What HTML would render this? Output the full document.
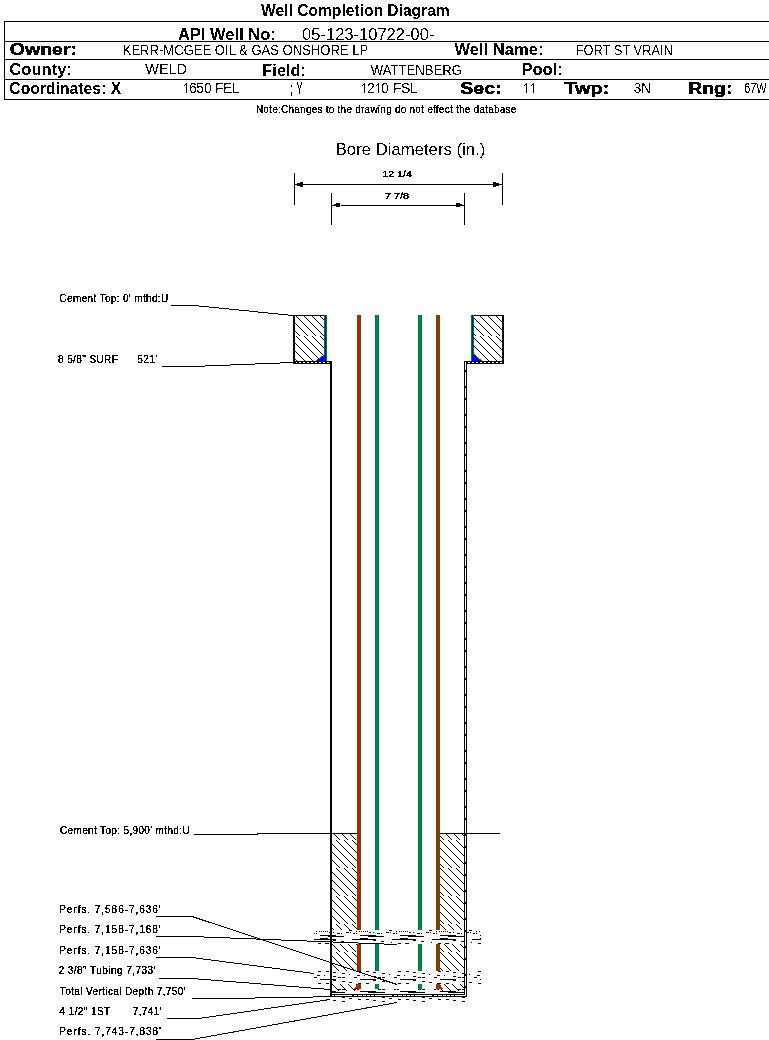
<!DOCTYPE html>
<html><head><meta charset="utf-8">
<style>
html,body{margin:0;padding:0;background:#fff;}
body{width:769px;height:1040px;overflow:hidden;position:relative;}
svg{position:absolute;left:0;top:0;}
text{font-family:"Liberation Sans",sans-serif;fill:#000;white-space:pre;filter:url(#bin);}
.b{font-weight:bold;filter:url(#binr);}
.sm,.smg text{filter:url(#binr);stroke:#000;stroke-width:0.3px;}
#note{stroke-width:0.25px;}
.rg{filter:url(#binr);}
.hv{font-weight:bold;stroke:#000;stroke-width:0.25px;}
</style></head><body>
<svg width="769" height="1040" viewBox="0 0 769 1040">
<defs>
<filter id="bin" x="-5%" y="-20%" width="110%" height="140%"><feComponentTransfer><feFuncA type="discrete" tableValues="0 0 1 1 1"/></feComponentTransfer></filter>
<filter id="binr" x="-5%" y="-20%" width="110%" height="140%"><feComponentTransfer><feFuncA type="discrete" tableValues="0 1"/></feComponentTransfer></filter>
<filter id="bins" x="-5%" y="-20%" width="110%" height="140%"><feComponentTransfer><feFuncA type="discrete" tableValues="0 0 0 1 1 1 1 1 1 1"/></feComponentTransfer></filter>
<pattern id="hatch" x="0" y="0" width="8" height="56" patternUnits="userSpaceOnUse" shape-rendering="crispEdges">
<path id="hp" d="M0 0h1v1h-1zM1 1h1v1h-1zM2 2h1v1h-1zM3 3h1v1h-1zM4 4h1v1h-1zM5 5h1v1h-1zM6 6h1v1h-1zM7 7h1v1h-1zM0 8h1v1h-1zM1 9h1v1h-1zM2 10h1v1h-1zM3 11h1v1h-1zM4 12h1v1h-1zM5 13h1v1h-1zM6 14h1v1h-1zM7 15h1v1h-1zM0 16h1v1h-1zM1 17h1v1h-1zM2 18h1v1h-1zM3 19h1v1h-1zM4 20h1v1h-1zM5 21h1v1h-1zM6 22h1v1h-1zM7 23h1v1h-1zM0 24h1v1h-1zM1 25h1v1h-1zM2 26h1v1h-1zM3 27h1v1h-1zM0 28h1v1h-1zM1 29h1v1h-1zM2 30h1v1h-1zM3 31h1v1h-1zM4 32h1v1h-1zM5 33h1v1h-1zM6 34h1v1h-1zM7 35h1v1h-1zM0 36h1v1h-1zM1 37h1v1h-1zM2 38h1v1h-1zM3 39h1v1h-1zM4 40h1v1h-1zM5 41h1v1h-1zM6 42h1v1h-1zM7 43h1v1h-1zM0 44h1v1h-1zM1 45h1v1h-1zM2 46h1v1h-1zM3 47h1v1h-1zM4 48h1v1h-1zM5 49h1v1h-1zM6 50h1v1h-1zM7 51h1v1h-1zM0 52h1v1h-1zM1 53h1v1h-1zM2 54h1v1h-1zM3 55h1v1h-1z" fill="#000"/>
</pattern>
</defs>

<!-- ===== HEADER ===== -->
<g shape-rendering="crispEdges" stroke="#000" stroke-width="1">
<line x1="4" y1="21.5" x2="769" y2="21.5"/>
<line x1="4" y1="41.5" x2="769" y2="41.5"/>
<line x1="4" y1="59.5" x2="769" y2="59.5"/>
<line x1="4" y1="79.5" x2="769" y2="79.5"/>
<line x1="4" y1="99.5" x2="769" y2="99.5"/>
<line x1="4.5" y1="21" x2="4.5" y2="100"/>
</g>
<text id="title" class="b" x="261.1" y="16" font-size="16.5" textLength="188.6" lengthAdjust="spacingAndGlyphs">Well Completion Diagram</text>
<text id="api" class="b" x="178.0" y="40" font-size="16.5" textLength="97.8" lengthAdjust="spacingAndGlyphs">API Well No:</text>
<text id="apinum" class="rg" x="302.1" y="40" font-size="16.5" textLength="132.3" lengthAdjust="spacingAndGlyphs">05-123-10722-00-</text>

<text id="owner" class="hv" x="9.8" y="55" font-size="16.5" textLength="67.2" lengthAdjust="spacingAndGlyphs">Owner:</text>
<text id="kerr" class="rg" x="122.7" y="55" font-size="14" textLength="245.6" lengthAdjust="spacingAndGlyphs">KERR-MCGEE OIL &amp; GAS ONSHORE LP</text>
<text id="wellname" class="b" x="454.5" y="55" font-size="16.5" textLength="88.9" lengthAdjust="spacingAndGlyphs">Well Name:</text>
<text id="fort" class="rg" x="575.7" y="55" font-size="14" textLength="97.2" lengthAdjust="spacingAndGlyphs">FORT ST VRAIN</text>

<text id="county" class="b" x="9.3" y="75" font-size="16.5" textLength="62.7" lengthAdjust="spacingAndGlyphs">County:</text>
<text id="weld" class="rg" x="145.3" y="74" font-size="14" textLength="41.7" lengthAdjust="spacingAndGlyphs">WELD</text>
<text id="field" class="b" x="262.3" y="76" font-size="16.5" textLength="43.8" lengthAdjust="spacingAndGlyphs">Field:</text>
<text id="watt" class="rg" x="370.8" y="75" font-size="14" textLength="91.3" lengthAdjust="spacingAndGlyphs">WATTENBERG</text>
<text id="pool" class="b" x="521.4" y="75" font-size="16.5" textLength="41.5" lengthAdjust="spacingAndGlyphs">Pool:</text>

<text id="coord" class="b" x="9.3" y="94" font-size="16.5" textLength="111.9" lengthAdjust="spacingAndGlyphs">Coordinates: X</text>
<text class="rg" x="189 196 204 211 215 223 232" y="93" font-size="14">650 FEL</text>
<path shape-rendering="crispEdges" fill="#000" d="M291 85h1v2h-1zM291 92h1v4h-1zM297 82h1v3h-1zM298 85h1v3h-1zM301 82h1v3h-1zM300 85h1v3h-1zM299 88h1v6h-1z"/>
<text class="rg" x="367" y="93" font-size="14">2</text><text class="rg" x="381 387 393 401 410" y="93" font-size="14">0 FSL</text>
<text id="sec" class="hv" x="460.2" y="94" font-size="16.5" textLength="41.7" lengthAdjust="spacingAndGlyphs">Sec:</text>
<path shape-rendering="crispEdges" fill="#000" d="M186 83h1v10h-1zM185 84h1v1h-1zM184 85h1v1h-1zM364 83h1v10h-1zM363 84h1v1h-1zM362 85h1v1h-1zM378 83h1v10h-1zM377 84h1v1h-1zM376 85h1v1h-1zM526 83h1v10h-1zM525 84h1v1h-1zM524 85h1v1h-1zM533 83h1v10h-1zM532 84h1v1h-1zM531 85h1v1h-1z"/>
<text id="twp" class="hv" x="564.3" y="94" font-size="16.5" textLength="44.9" lengthAdjust="spacingAndGlyphs">Twp:</text>
<text id="n3n" class="rg" x="633.7" y="93" font-size="14" textLength="17.2" lengthAdjust="spacingAndGlyphs">3N</text>
<text id="rng" class="hv" x="688.2" y="94" font-size="16.5" textLength="44.2" lengthAdjust="spacingAndGlyphs">Rng:</text>
<text id="w67" class="rg" x="744.2" y="93" font-size="14" textLength="22.5" lengthAdjust="spacingAndGlyphs">67W</text>

<text id="note" class="sm" x="255.9" y="113" font-size="10" textLength="260.5" lengthAdjust="spacing">Note:Changes to the drawing do not effect the database</text>

<!-- ===== DIAGRAM TITLE / DIMENSIONS ===== -->
<text id="bore" class="rg" x="335.7" y="155" font-size="17" textLength="149.6" lengthAdjust="spacingAndGlyphs">Bore Diameters (in.)</text>
<g shape-rendering="crispEdges" stroke="#000" stroke-width="1" fill="none">
<line x1="294.5" y1="173" x2="294.5" y2="205"/>
<line x1="502.5" y1="173" x2="502.5" y2="205"/>
<line x1="294" y1="184.5" x2="503" y2="184.5"/>
<line x1="331.5" y1="193" x2="331.5" y2="225"/>
<line x1="464.5" y1="193" x2="464.5" y2="225"/>
<line x1="331" y1="205.5" x2="465" y2="205.5"/>
</g>
<g fill="#000" shape-rendering="crispEdges">
<rect x="297" y="183" width="3" height="3"/><rect x="300" y="182" width="3" height="5"/>
<rect x="496" y="183" width="3" height="3"/><rect x="493" y="182" width="3" height="5"/>
<rect x="334" y="204" width="2" height="2"/><rect x="336" y="203" width="4" height="4"/>
<rect x="460" y="204" width="2" height="2"/><rect x="456" y="203" width="4" height="4"/>
<rect x="340" y="205" width="1" height="1" fill="#fff"/>
</g>
<text id="d1" class="sm" x="382.2" y="177" font-size="9.5" textLength="29.8" lengthAdjust="spacingAndGlyphs">12 1/4</text>
<text id="d2" class="sm" x="384.7" y="199" font-size="9.5" textLength="24.4" lengthAdjust="spacingAndGlyphs">7 7/8</text>

<!-- ===== WELL BODY ===== -->
<rect x="295" y="316" width="29" height="45" fill="url(#hatch)"/>
<rect x="474" y="316" width="28" height="45" fill="url(#hatch)"/>
<rect x="332" y="834" width="25" height="96" fill="url(#hatch)"/><rect x="440" y="834" width="24" height="96" fill="url(#hatch)"/><rect x="332" y="944" width="25" height="27" fill="url(#hatch)"/><rect x="440" y="944" width="24" height="27" fill="url(#hatch)"/><rect x="332" y="984" width="25" height="7" fill="url(#hatch)"/><rect x="440" y="984" width="24" height="7" fill="url(#hatch)"/>
<g shape-rendering="crispEdges">
<rect x="357" y="315" width="4" height="615" fill="#008000"/><rect x="358" y="315" width="2" height="615" fill="#ff0000"/><rect x="436" y="315" width="4" height="615" fill="#008000"/><rect x="437" y="315" width="2" height="615" fill="#ff0000"/><rect x="375" y="315" width="4" height="615" fill="#008000"/><rect x="376" y="315" width="2" height="615" fill="#008080"/><rect x="418" y="315" width="4" height="615" fill="#008000"/><rect x="419" y="315" width="2" height="615" fill="#008080"/><rect x="357" y="944" width="4" height="27" fill="#008000"/><rect x="358" y="944" width="2" height="27" fill="#ff0000"/><rect x="436" y="944" width="4" height="27" fill="#008000"/><rect x="437" y="944" width="2" height="27" fill="#ff0000"/><rect x="375" y="944" width="4" height="27" fill="#008000"/><rect x="376" y="944" width="2" height="27" fill="#008080"/><rect x="418" y="944" width="4" height="27" fill="#008000"/><rect x="419" y="944" width="2" height="27" fill="#008080"/><rect x="357" y="984" width="4" height="5" fill="#008000"/><rect x="358" y="984" width="2" height="5" fill="#ff0000"/><rect x="436" y="984" width="4" height="5" fill="#008000"/><rect x="437" y="984" width="2" height="5" fill="#ff0000"/><rect x="375" y="984" width="4" height="5" fill="#008000"/><rect x="376" y="984" width="2" height="5" fill="#008080"/><rect x="418" y="984" width="4" height="5" fill="#008000"/><rect x="419" y="984" width="2" height="5" fill="#008080"/>
</g>
<!-- perf bands -->
<g shape-rendering="crispEdges">
<rect x="314" y="930" width="167" height="14" fill="#fff"/>
<rect x="314" y="971" width="167" height="13" fill="#fff"/>
<rect x="332" y="991" width="132" height="3" fill="#fff"/>
<path fill="#000" d="M349 930h3v1h-3zM389 930h3v1h-3zM429 930h3v1h-3zM469 930h3v1h-3zM316 931h1v1h-1zM356 931h1v1h-1zM396 931h1v1h-1zM436 931h1v1h-1zM476 931h1v1h-1zM319 931h1v1h-1zM359 931h1v1h-1zM399 931h1v1h-1zM439 931h1v1h-1zM479 931h1v1h-1zM321 931h1v1h-1zM361 931h1v1h-1zM401 931h1v1h-1zM441 931h1v1h-1zM323 931h1v1h-1zM363 931h1v1h-1zM403 931h1v1h-1zM443 931h1v1h-1zM325 931h1v1h-1zM365 931h1v1h-1zM405 931h1v1h-1zM445 931h1v1h-1zM327 931h1v1h-1zM367 931h1v1h-1zM407 931h1v1h-1zM447 931h1v1h-1zM329 932h2v1h-2zM369 932h2v1h-2zM409 932h2v1h-2zM449 932h2v1h-2zM333 932h1v1h-1zM373 932h1v1h-1zM413 932h1v1h-1zM453 932h1v1h-1zM346 932h3v1h-3zM386 932h3v1h-3zM426 932h3v1h-3zM466 932h3v1h-3zM350 932h1v1h-1zM390 932h1v1h-1zM430 932h1v1h-1zM470 932h1v1h-1zM337 933h3v1h-3zM377 933h3v1h-3zM417 933h3v1h-3zM457 933h3v1h-3zM341 933h1v1h-1zM381 933h1v1h-1zM421 933h1v1h-1zM461 933h1v1h-1zM314 933h1v1h-1zM353 933h2v1h-2zM393 933h2v1h-2zM433 933h2v1h-2zM473 933h2v1h-2zM316 933h1v1h-1zM356 933h1v1h-1zM396 933h1v1h-1zM436 933h1v1h-1zM476 933h1v1h-1zM320 935h16v1h-16zM360 935h16v1h-16zM400 935h16v1h-16zM440 935h16v1h-16zM480 935h1v1h-1zM328 936h16v1h-16zM368 936h16v1h-16zM408 936h16v1h-16zM448 936h16v1h-16zM320 938h8v1h-8zM360 938h8v1h-8zM400 938h8v1h-8zM440 938h8v1h-8zM480 938h1v1h-1zM314 939h2v1h-2zM352 939h4v1h-4zM392 939h4v1h-4zM432 939h4v1h-4zM472 939h4v1h-4zM316 939h20v1h-20zM356 939h20v1h-20zM396 939h20v1h-20zM436 939h20v1h-20zM476 939h5v1h-5zM333 940h3v1h-3zM373 940h3v1h-3zM413 940h3v1h-3zM453 940h3v1h-3zM341 941h3v1h-3zM381 941h3v1h-3zM421 941h3v1h-3zM461 941h3v1h-3zM351 942h1v1h-1zM391 942h1v1h-1zM431 942h1v1h-1zM471 942h1v1h-1zM318 943h3v1h-3zM358 943h3v1h-3zM398 943h3v1h-3zM438 943h3v1h-3zM478 943h3v1h-3zM325 943h4v1h-4zM365 943h4v1h-4zM405 943h4v1h-4zM445 943h4v1h-4zM318 971h3v1h-3zM358 971h3v1h-3zM398 971h3v1h-3zM438 971h3v1h-3zM478 971h3v1h-3zM326 971h3v1h-3zM366 971h3v1h-3zM406 971h3v1h-3zM446 971h3v1h-3zM333 972h3v1h-3zM373 972h3v1h-3zM413 972h3v1h-3zM453 972h3v1h-3zM342 973h3v1h-3zM382 973h3v1h-3zM422 973h3v1h-3zM462 973h3v1h-3zM349 974h1v1h-1zM389 974h1v1h-1zM429 974h1v1h-1zM469 974h1v1h-1zM317 975h3v1h-3zM357 975h3v1h-3zM397 975h3v1h-3zM437 975h3v1h-3zM477 975h3v1h-3zM324 975h1v1h-1zM364 975h1v1h-1zM404 975h1v1h-1zM444 975h1v1h-1zM333 976h3v1h-3zM373 976h3v1h-3zM413 976h3v1h-3zM453 976h3v1h-3zM314 977h2v1h-2zM354 977h2v1h-2zM394 977h2v1h-2zM434 977h2v1h-2zM474 977h2v1h-2zM316 977h1v1h-1zM356 977h1v1h-1zM396 977h1v1h-1zM436 977h1v1h-1zM476 977h1v1h-1zM338 977h3v1h-3zM378 977h3v1h-3zM418 977h3v1h-3zM458 977h3v1h-3zM342 977h3v1h-3zM382 977h3v1h-3zM422 977h3v1h-3zM462 977h3v1h-3zM320 979h16v1h-16zM360 979h16v1h-16zM400 979h16v1h-16zM440 979h16v1h-16zM480 979h1v1h-1zM333 980h3v1h-3zM373 980h3v1h-3zM413 980h3v1h-3zM453 980h3v1h-3zM342 981h3v1h-3zM382 981h3v1h-3zM422 981h3v1h-3zM462 981h3v1h-3zM349 982h3v1h-3zM389 982h3v1h-3zM429 982h3v1h-3zM469 982h3v1h-3zM318 983h3v1h-3zM358 983h3v1h-3zM398 983h3v1h-3zM438 983h3v1h-3zM478 983h3v1h-3zM326 983h3v1h-3zM366 983h3v1h-3zM406 983h3v1h-3zM446 983h3v1h-3zM354 989h2v1h-2zM394 989h2v1h-2zM434 989h2v1h-2zM357 989h2v1h-2zM397 989h2v1h-2zM437 989h2v1h-2zM338 989h3v1h-3zM378 989h3v1h-3zM418 989h3v1h-3zM458 989h3v1h-3zM342 989h3v1h-3zM382 989h3v1h-3zM422 989h3v1h-3zM462 989h3v1h-3zM332 991h4v1h-4zM360 991h16v1h-16zM400 991h16v1h-16zM440 991h16v1h-16zM332 992h13v1h-13zM368 992h17v1h-17zM408 992h17v1h-17zM448 992h17v1h-17zM342 997h3v1h-3zM382 997h3v1h-3zM422 997h3v1h-3zM462 997h3v1h-3zM349 998h3v1h-3zM389 998h3v1h-3zM429 998h3v1h-3zM358 999h3v1h-3zM398 999h3v1h-3zM438 999h3v1h-3zM366 999h3v1h-3zM406 999h3v1h-3zM446 999h3v1h-3zM333 1000h3v1h-3zM373 1000h3v1h-3zM413 1000h3v1h-3zM453 1000h3v1h-3zM342 1001h3v1h-3zM382 1001h3v1h-3zM422 1001h3v1h-3zM462 1001h3v1h-3z"/>
</g>
<!-- shoes -->
<g shape-rendering="crispEdges"><path fill="#ff0000" d="M358 984h2v1h-2zM437 984h2v1h-2zM357 985h3v1h-3zM437 985h3v1h-3zM357 986h3v1h-3zM437 986h3v1h-3zM356 987h4v1h-4zM437 987h4v1h-4zM355 988h5v1h-5zM437 988h5v1h-5z"/><path fill="#008000" d="M357 984h1v1h-1zM360 984h1v1h-1zM439 984h1v1h-1zM436 984h1v1h-1zM356 985h1v1h-1zM360 985h1v1h-1zM440 985h1v1h-1zM436 985h1v1h-1zM356 986h1v1h-1zM360 986h1v1h-1zM440 986h1v1h-1zM436 986h1v1h-1zM355 987h1v1h-1zM360 987h1v1h-1zM441 987h1v1h-1zM436 987h1v1h-1zM354 988h1v1h-1zM360 988h1v1h-1zM442 988h1v1h-1zM436 988h1v1h-1z"/></g>
<g shape-rendering="crispEdges" fill="#000">
<rect x="358" y="983" width="2" height="1"/><rect x="437" y="983" width="2" height="1"/>
<!-- surface casing boxes -->
<rect x="293" y="315" width="31" height="1"/>
<rect x="293" y="315" width="2" height="48"/>
<rect x="474" y="315" width="30" height="1"/>
<rect x="502" y="315" width="2" height="48"/>
<rect x="293" y="361" width="39" height="3"/>
<rect x="464" y="361" width="40" height="3"/>
<!-- walls -->
<rect x="330" y="361" width="2" height="636"/>
<rect x="464" y="361" width="3" height="636"/>
<!-- bottom -->
<rect x="330" y="994" width="137" height="3"/>
</g>
<g stroke="#fff" stroke-width="1" shape-rendering="crispEdges" fill="none">
<line x1="296" y1="362.5" x2="331" y2="362.5" stroke-dasharray="2 2" stroke-dashoffset="1"/>
<line x1="468" y1="362.5" x2="502" y2="362.5" stroke-dasharray="2 2"/>
<line x1="465.5" y1="362" x2="465.5" y2="996" stroke-dasharray="10 2 14 2" stroke-dashoffset="2"/>
<line x1="332" y1="995.5" x2="465" y2="995.5" stroke-dasharray="17 2 3 1 4 1 3 1 3 1 3 1" stroke-dashoffset="37"/>
</g>
<!-- surface casing strips -->
<g shape-rendering="crispEdges">
<rect x="324" y="315" width="3" height="46" fill="#008000"/>
<rect x="325" y="315" width="1" height="46" fill="#0000ff"/>
<rect x="471" y="315" width="3" height="46" fill="#008000"/>
<rect x="472" y="315" width="1" height="46" fill="#0000ff"/>
</g>
<g shape-rendering="crispEdges"><path fill="#0000ff" d="M325 354h1v1h-1zM472 354h1v1h-1zM324 355h2v1h-2zM472 355h2v1h-2zM322 356h4v1h-4zM472 356h4v1h-4zM321 357h5v1h-5zM472 357h5v1h-5zM320 358h6v1h-6zM472 358h6v1h-6zM318 359h8v1h-8zM472 359h8v1h-8zM317 360h9v1h-9zM472 360h9v1h-9z"/><path fill="#008000" d="M324 354h1v1h-1zM473 354h1v1h-1zM323 355h1v1h-1zM474 355h1v1h-1zM321 356h1v1h-1zM476 356h1v1h-1zM320 357h1v1h-1zM477 357h1v1h-1zM319 358h1v1h-1zM478 358h1v1h-1zM317 359h1v1h-1zM480 359h1v1h-1zM316 360h1v1h-1zM481 360h1v1h-1z"/></g>

<!-- ===== LEADERS ===== -->
<g stroke="#000" stroke-width="1" fill="none" shape-rendering="crispEdges">
<polyline points="171,305.5 194,305.5 293,315.5"/>
<polyline points="162,366.5 192,366.5 293,362.5"/>
<polyline points="194,834.5 257,834.5 257,833.5 357,833.5"/>
<line x1="440" y1="833.5" x2="500" y2="833.5"/>
<polyline points="156,916.5 192,916.5 397,984.5"/>
<polyline points="156,936.5 191,936.5 397,944.5"/>
<polyline points="156,957.5 192,957.5 314,973.5"/>
<polyline points="159,978.5 192,978.5 330,989.5"/>
<polyline points="192,998.5 226,998.5 331,996.7"/>
<polyline points="167,1018.5 199,1018.5 330,999.5"/>
<polyline points="156,1039.5 192,1039.5 397,1002.5"/>
</g>

<!-- ===== LABELS ===== -->
<g font-size="10" class="smg">
<text id="ct0" x="59.5" y="302" textLength="108.7" lengthAdjust="spacing">Cement Top: 0' mthd:U</text>
<text id="surf" x="58.0" y="363" textLength="99.1" lengthAdjust="spacing">8 5/8" SURF      521'</text>
<text id="ct5900" x="60.0" y="834" textLength="129.6" lengthAdjust="spacing">Cement Top: 5,900' mthd:U</text>
<text id="p1" x="59.2" y="913" textLength="101.5" lengthAdjust="spacing">Perfs. 7,586-7,636'</text>
<text id="p2" x="59.2" y="933" textLength="101.5" lengthAdjust="spacing">Perfs. 7,158-7,168'</text>
<text id="p3" x="59.2" y="954" textLength="101.5" lengthAdjust="spacing">Perfs. 7,158-7,636'</text>
<text id="tub" x="58.6" y="974" textLength="96.7" lengthAdjust="spacing">2 3/8" Tubing 7,733'</text>
<text id="tvd" x="59.8" y="995" textLength="125.8" lengthAdjust="spacing">Total Vertical Depth 7,750'</text>
<text id="st" x="59.5" y="1015" textLength="102.2" lengthAdjust="spacing">4 1/2" 1ST       7,741'</text>
<text id="p7" x="59.2" y="1035" textLength="101.8" lengthAdjust="spacing">Perfs. 7,743-7,838'</text>
</g>
</svg>
</body></html>
